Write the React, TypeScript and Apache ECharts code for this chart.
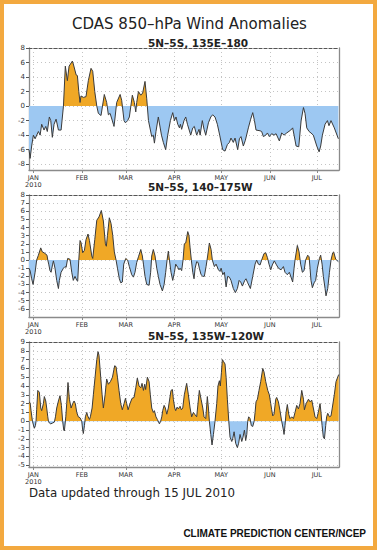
import React, { useEffect, useRef } from 'react';
import * as echarts from 'echarts';

// x = days since 1 Jan 2010
const monthDays = [0, 31, 59, 90, 120, 151, 181];
const monthNames = ['JAN', 'FEB', 'MAR', 'APR', 'MAY', 'JUN', 'JUL'];
const yearLabel = '2010';

const panelTitles = ['5N\u20135S, 135E\u2013180', '5N\u20135S, 140\u2013175W', '5N\u20135S, 135W\u2013120W'];
const yTicks1 = [-8, -6, -4, -2, 0, 2, 4, 6, 8];
const yTicks2 = [-6, -5, -4, -3, -2, -1, 0, 1, 2, 3, 4, 5, 6, 7, 8];
const yTicks3 = [-5, -4, -3, -2, -1, 0, 1, 2, 3, 4, 5, 6, 7, 8, 9];

const west135E180: [number, number][] = [
  [-2.8, -6], [-2.1, -7.2], [-1.1, -5.5], [0, -4], [1.1, -4.5], [3.2, -3.5], [4.3, -4], [5.3, -2.5], [6.8, -3.3], [7.9, -2.8],
  [8.9, -3.5], [10.2, -1.5], [11.1, -2], [12.1, -4.3], [13.2, -2.5], [14.5, -1.8], [16, -3.3], [17.7, -3.3], [19.2, 0], [20.4, 5.5],
  [21.7, 3.5], [22.8, 5.5], [24.9, 6.2], [25.5, 5.8], [27.3, 4.3], [28.1, 4.2], [29, 2], [29.8, 0.5], [30.4, 1.4], [31.9, 1.2],
  [33.6, 1.3], [35.1, 3.5], [36.8, 5.2], [37.9, 4.8], [39.2, 2], [40.5, 0], [41.5, -1], [43.2, -1.3], [45.3, 1.6], [46.8, 0.5],
  [47.9, -1.2], [49, -1], [51.1, -2.5], [51.5, -2.8], [52.2, -1.5], [53.2, 0.5], [55.4, 1.6], [56.4, 0.8], [57.9, -2], [58.8, -2.3],
  [60.2, -2], [61.3, -1.5], [63.2, 1.5], [64.5, 0.5], [65.4, -0.8], [66, 0.5], [67.1, 2], [68.6, 1.5], [69.8, 1.8], [71.3, 3.4],
  [72.4, 1], [73.5, -2], [75.6, -4.2], [76.6, -4], [77.3, -5.1], [78.3, -3.5], [79.8, -1.5], [81.8, -4], [83, -5], [84.5, -6],
  [85.8, -4], [87.5, -2], [89, -0.9], [90.1, -2], [91.1, -1.5], [92.2, -2.5], [93.3, -3], [93.9, -2.5], [94.7, -3.2], [96.2, -2],
  [97.3, -1.5], [98.4, -2.5], [100.5, -4], [101.8, -3], [102.8, -2.8], [104.3, -4], [105.8, -3.2], [106.5, -4], [107.9, -2], [109, -3.2],
  [110.1, -4], [111.8, -2.3], [113.3, -1.5], [114.5, -1.2], [116, -1.5], [117.5, -2.5], [119, -4], [120.9, -6], [122.4, -6.2], [123.9, -5.3],
  [125.2, -5], [126.2, -4.4], [127.7, -5], [128.8, -4.4], [130.5, -6], [131.6, -4.5], [132.6, -4.2], [134.1, -5.5], [135.4, -4.7], [137.3, -3],
  [138.8, -1.8], [140.1, -0.9], [141.2, -2], [142.2, -3.3], [144.8, -3.4], [145.8, -3.5], [146.9, -4.2], [148.4, -4], [149.5, -3.7], [150.7, -4.2],
  [152.2, -3.8], [153.7, -4], [155, -3.8], [157.1, -4.8], [158.6, -3.7], [160.1, -4], [161.8, -3.7], [164.4, -3.3], [165.6, -3], [166.5, -4],
  [167.8, -5.5], [169.5, -5.6], [171, -2], [172.5, -0.2], [173.5, -1], [174.6, -3], [176.1, -3.5], [177.3, -3.7], [178.8, -4], [181, -5.5],
  [182.5, -6.3], [183.5, -5.5], [184.6, -4], [186.3, -2.5], [187.8, -2], [188.8, -2.7], [190.1, -2], [192.2, -3], [194.8, -4.5],
];

const central140175W: [number, number][] = [
  [-2.8, -1], [-2.1, -1.3], [-1.1, -2.3], [-0.2, -3], [1.1, -1.5], [2.1, 0], [3.2, 0.6], [4.7, 1.5], [5.7, 1], [6.8, 0.9],
  [8.1, 0.7], [8.7, 0.6], [9.2, 0], [9.8, -0.5], [10.6, -1.3], [11.3, -1.5], [12.3, -0.5], [12.8, -0.1], [13.8, -1], [14.9, -2.5],
  [16, -3.5], [16.6, -2.5], [17.7, -1.5], [19.2, -1], [20.2, -0.8], [20.9, -0.9], [21.9, 0.2], [23.4, 0.1], [24.5, -1.5], [25.5, -2.5],
  [26.6, -2], [27.7, -2.5], [28.3, -2.6], [29, 0], [29.8, 2.4], [30.4, 2.2], [31.5, 0.9], [32.6, 1.2], [33.6, 2.5], [34.9, 3.2],
  [35.8, 2.4], [37.3, 0.5], [37.9, 0.2], [39.2, 2.5], [40.5, 4.9], [41.9, 5.3], [43.4, 6.1], [44.7, 4.8], [46, 2], [46.6, 1.7],
  [47.3, 3], [48.5, 5.2], [49.6, 4.5], [50.7, 3], [51.7, 1], [52.8, 0], [53.7, -1], [54.9, -2.3], [55.8, -2.8], [56.8, -2.7],
  [57.7, -0.5], [59, 0.2], [60.2, 0], [61.3, -0.8], [62.8, -1.8], [63.9, -2.1], [64.9, -1.5], [66, -0.3], [67.1, 0.4], [68.6, 1.3],
  [69.6, 0.5], [70.3, -0.5], [71.3, -2], [72.4, -3], [73.9, -3.1], [74.9, -1.5], [75.6, 0.5], [76.6, 1.3], [77.7, 0.5], [78.8, -1],
  [79.8, -2], [80.9, -3], [82.4, -3.8], [83.5, -3], [84.5, -1.5], [85.4, 0], [86.2, 1.1], [86.9, 0], [87.9, -1.5], [89, -2.5],
  [90.1, -1.5], [90.9, -0.5], [92.2, -0.9], [93, -1.2], [93.7, -1], [94.7, -1.3], [95.6, 0], [96.4, 2], [97.3, 2.1], [98.6, 3.5],
  [99.4, 3], [100.1, 1.5], [100.9, 0], [101.8, -1.5], [102.6, -2.3], [103.3, -1], [104.3, -0.2], [105.2, -0.3], [106, -1], [107.1, -1.8],
  [108.2, -2], [109.2, -2], [110.3, -0.8], [111.3, 0.5], [112.4, 2.1], [113.5, 1.3], [114.3, 0], [115.6, -0.8], [116.7, -0.5], [118.2, -1.2],
  [119.2, -1.4], [119.9, -1], [121, -1.8], [122, -1.5], [123.1, -3.3], [124.1, -2], [125.2, -2.1], [126.2, -2.5], [127.7, -3.5], [129, -4],
  [130.3, -3.5], [131.4, -2.5], [132.4, -2.7], [133.5, -3.2], [135, -2.5], [135.8, -2.3], [136.9, -2.8], [138.6, -3.5], [140.1, -2], [141.6, -0.5],
  [142.6, 0], [143.7, -0.5], [144.8, -0.6], [145.8, 0], [147.3, 0.8], [148.4, 0.9], [149.5, 0.3], [150.5, -0.5], [151.6, -1.2], [152.6, -0.6],
  [153.9, -0.1], [155, -0.5], [156.5, -1], [158.2, -1.2], [159.7, -0.8], [160.7, -1.5], [162.2, -1.8], [163.5, -1.5], [165.6, -2.7], [166.5, -1],
  [167.1, 0], [168.6, 1.8], [169.7, 1], [170.7, -0.5], [171.8, -1.5], [172.9, -1.3], [173.9, 0], [175.2, 0.6], [176.1, 0.4], [176.7, -1],
  [177.3, -2.5], [178.2, -3.4], [179.3, -2.8], [180.3, -2.5], [181.4, -1], [182.7, 0.2], [183.5, 0.6], [184.4, -0.5], [185.2, -2], [186.3, -3.5],
  [186.9, -4.4], [188, -3.5], [189.1, -1.5], [190.1, 0], [191.2, 0.9], [191.8, 1], [193.1, 0.1], [194.8, -0.2],
];

const east135W120W: [number, number][] = [
  [-2.8, 2.2], [-2.1, 2.1], [-1.5, 1.2], [-0.6, 0], [0.6, -0.8], [1.3, -0.5], [1.7, 0], [2.1, 1.3], [2.8, 3.5], [3.8, 3.3],
  [4.7, 1.5], [5.3, 1.2], [6.4, 2], [7, 2.8], [7.9, 2.3], [8.5, 1.5], [9.2, 0.5], [9.6, 0], [10.2, -0.2], [11.1, -0.3],
  [12.3, -0.2], [13.4, -0.1], [14.1, 0.5], [14.9, 1.5], [16, 2.3], [17, 2.9], [17.9, 1.8], [18.7, 0], [19.4, -1], [19.8, -1.1],
  [20.7, 0.5], [21.3, 2], [22.1, 4.4], [23, 2.5], [24.1, 1.5], [25.1, 2], [26, 2.3], [26.8, 2], [27.7, 1], [28.7, 0.5],
  [29.8, 0.4], [30.9, 0], [31.5, -1], [31.9, -1.4], [32.6, -0.5], [33.2, 0.5], [34.1, 1], [34.7, 0.6], [35.8, 0.2], [36.4, 0.5],
  [37.5, 1.5], [38.3, 3], [39.4, 5], [40.5, 7], [41.3, 7.9], [41.9, 7.5], [43, 5], [43.9, 3], [44.7, 1.5], [45.8, 3],
  [46.8, 4.8], [47.9, 4.2], [49.2, 4.5], [50.5, 5], [51.9, 6.3], [52.8, 6.2], [53.7, 5], [54.7, 3.5], [55.8, 2], [56.8, 1.3],
  [57.9, 2], [58.8, 2.6], [59.6, 2], [60.5, 1.3], [61.7, 2], [63, 2.6], [64.3, 2.7], [65.4, 3.8], [66.4, 4.9], [67.5, 4],
  [68.6, 3.8], [69.4, 4.3], [70.3, 3.5], [71.1, 4.2], [71.7, 3.6], [72.8, 5], [73.9, 4.5], [74.7, 3], [75.6, 1.5], [76.6, 1],
  [77.3, 1.2], [78.3, 0.5], [79.2, 0.2], [80.5, -0.3], [81.3, 0], [82, 0.5], [82.6, 1.2], [83.5, 1.8], [84.3, 1.5], [85.2, 0.8],
  [86.2, 1.5], [87.9, 3.5], [88.8, 3.6], [89.4, 2.5], [90.3, 1.5], [90.9, 1.2], [91.8, 1.6], [92.6, 1.4], [93.7, 1.7], [94.5, 1.3],
  [95.4, 1.5], [96.4, 3], [97.9, 4.3], [99, 3], [100.1, 1.5], [101.1, 0.5], [102.2, 1], [103, 0.8], [104.3, 0.5], [106, 3.5],
  [107.1, 2.5], [108.2, 1.5], [109, 0.5], [110.1, 0.3], [111.1, 2.8], [111.8, 1.5], [112.4, 0], [113.3, -1.5], [114.1, -2.7], [115, -1.5],
  [116, 0], [117.1, 2], [117.9, 4], [118.8, 4.6], [119.4, 4], [120.1, 5.5], [120.7, 7], [121.4, 6.8], [122.4, 6.5], [123.1, 5],
  [123.9, 2.5], [124.8, 0], [125.6, -1.8], [126.7, -2.3], [127.3, -2], [128.2, -1.2], [129.2, -2.5], [130.3, -3], [131.1, -2.5], [132, -1.5],
  [133.1, -2.3], [133.9, -1.8], [134.8, -1], [135.6, -2.2], [136.3, -1.5], [136.9, 0], [137.5, 0.5], [138.4, 0.3], [139.2, -0.5], [140.1, -0.6],
  [141, 0], [141.6, 1], [142.2, 2.2], [143.1, 2.5], [144.1, 3.5], [145.2, 4.5], [146.5, 6], [147.3, 5.6], [148.4, 4.5], [149.7, 3.5],
  [150.7, 3], [151.6, 2], [152.2, 1.3], [152.9, 0.6], [153.7, 0.8], [154.8, 2.5], [155.4, 2.7], [156.5, 2.2], [157.5, 1.2], [158.6, 0],
  [159.7, -1], [160.1, -1.5], [160.7, -0.5], [161.4, 1], [162.2, 1.9], [163.1, 0.8], [163.9, 0.3], [165, 0.5], [166.1, 0.3], [167.1, 1],
  [168.2, 1.8], [169.3, 1.4], [170.3, 2], [171.4, 3.5], [172.5, 2.5], [173.1, 1.3], [174.2, 2], [175.7, 2.5], [176.7, 2.2], [177.8, 2.4],
  [178.8, 1.5], [179.9, 0.5], [181, 0.3], [182, 1], [183.1, 2], [183.7, 1], [184.4, -0.5], [185.2, -1.8], [185.9, -2], [186.7, -0.5],
  [187.3, 0.5], [188, 0.9], [189.1, 0.5], [190.1, 0.6], [190.9, 1.5], [192.2, 3], [193.3, 4.5], [195, 5.3],
];

const panelData = [west135E180, central140175W, east135W120W];
const panelTicks = [yTicks1, yTicks2, yTicks3];

const X_MIN = -2.8;
const X_MAX = 195.2;
const layout = [
  { top: 48, height: 122, min: -8.8, max: 8 },
  { top: 195, height: 122, min: -7, max: 8 },
  { top: 342, height: 125, min: -5.2, max: 9 },
];
const subtitleY = [43, 187, 336];

const POS = '#F0A826';
const NEG = '#9DC8F2';
const FONT = 'DejaVu Sans';

export default function App() {
  const ref = useRef<HTMLDivElement>(null);
  useEffect(() => {
    if (!ref.current) return;
    const chart = echarts.init(ref.current, undefined, { renderer: 'svg' });
    const grids: any[] = [];
    const xAxes: any[] = [];
    const yAxes: any[] = [];
    const series: any[] = [];
    const visualMaps: any[] = [];
    const graphics: any[] = [];

    layout.forEach((L, i) => {
      grids.push({ left: 29, width: 310, top: L.top, height: L.height, show: false });
      xAxes.push({
        gridIndex: i, type: 'value', min: X_MIN, max: X_MAX,
        axisLine: { show: true, onZero: false, lineStyle: { color: '#8a8a8a', width: 1.3 } },
        axisTick: { show: true, customValues: monthDays, length: 3, lineStyle: { color: '#8a8a8a' } },
        axisLabel: {
          customValues: monthDays, fontSize: 6.5, color: '#333', margin: 4, lineHeight: 7, fontFamily: FONT,
          formatter: (v: number) => {
            const k = monthDays.indexOf(Math.round(v));
            if (k < 0) return '';
            return k === 0 ? monthNames[k] + '\n' + yearLabel : monthNames[k];
          },
        },
        splitLine: { show: true, lineStyle: { color: '#c4c4c4', type: [1, 3], width: 1 } },
      });
      xAxes.push({
        gridIndex: i, type: 'value', position: 'top', min: X_MIN, max: X_MAX,
        axisLine: { show: true, onZero: false, lineStyle: { color: '#555', width: 1.2, type: [3, 2] } },
        axisTick: { show: false }, axisLabel: { show: false }, splitLine: { show: false },
      });
      yAxes.push({
        gridIndex: i, type: 'value', min: L.min, max: L.max,
        axisLine: { show: true, onZero: false, lineStyle: { color: '#8a8a8a', width: 1.3 } },
        axisTick: { show: true, customValues: panelTicks[i], length: 3, lineStyle: { color: '#555' } },
        axisLabel: { customValues: panelTicks[i], fontSize: 7, color: '#333', margin: 4, fontFamily: FONT },
        splitLine: { show: true, lineStyle: { color: '#c4c4c4', type: [1, 3], width: 1 } },
      });
      yAxes.push({
        gridIndex: i, type: 'value', position: 'right', min: L.min, max: L.max,
        axisLine: { show: true, onZero: false, lineStyle: { color: '#8a8a8a', width: 1.3 } },
        axisTick: { show: false }, axisLabel: { show: false }, splitLine: { show: false },
      });
      series.push({
        type: 'line', xAxisIndex: 2 * i, yAxisIndex: 2 * i,
        data: panelData[i], symbol: 'none', showSymbol: false,
        lineStyle: { color: '#3a3a3a', width: 1 },
        areaStyle: { opacity: 1 },
        z: 3,
      });
      visualMaps.push({
        type: 'piecewise', show: false, seriesIndex: i, dimension: 1,
        pieces: [{ gte: -100, lt: 0, color: NEG }, { gte: 0, lte: 100, color: POS }],
      });
      graphics.push({
        type: 'text', left: 148, top: subtitleY[i] - 6,
        style: { text: panelTitles[i], font: `bold 10.5px "${FONT}"`, fill: '#222' },
      });
    });

    graphics.push(
      {
        type: 'rect', shape: { x: 2, y: 2, width: 373, height: 546 },
        style: { fill: 'none', stroke: '#F3A93F', lineWidth: 4 }, z: -1,
      },
      {
        type: 'text', left: 'center', top: 16,
        style: { text: 'CDAS 850\u2013hPa Wind Anomalies', font: `15px "${FONT}"`, fill: '#222' },
      },
      {
        type: 'text', left: 29, top: 487,
        style: { text: 'Data updated through 15 JUL 2010', font: `11.8px "${FONT}"`, fill: '#222' },
      },
      {
        type: 'text', right: 13, top: 528,
        style: { text: 'CLIMATE PREDICTION CENTER/NCEP', font: `bold 10px "Liberation Sans"`, fill: '#111' },
      }
    );

    chart.setOption({
      animation: false,
      backgroundColor: '#ffffff',
      grid: grids,
      xAxis: xAxes,
      yAxis: yAxes,
      series,
      visualMap: visualMaps,
      graphic: graphics,
    });
    return () => chart.dispose();
  }, []);
  return <div ref={ref} style={{ position: 'fixed', left: 0, top: 0, width: 379, height: 554 }} />;
}
